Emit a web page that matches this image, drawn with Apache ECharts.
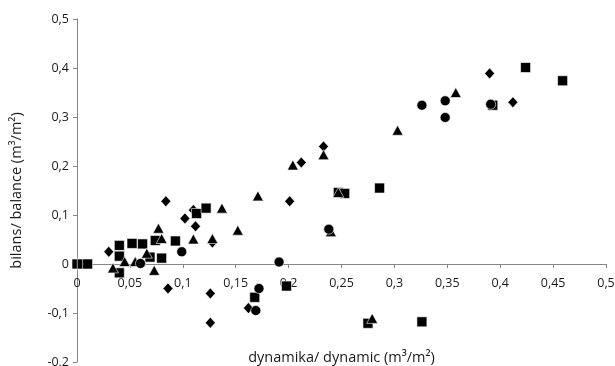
<!DOCTYPE html>
<html>
<head>
<meta charset="utf-8">
<script src="https://cdn.jsdelivr.net/npm/echarts@6/dist/echarts.min.js"></script>
<style>
    html, body { margin: 0; padding: 0; background: #fff; }
    #chart { width: 615px; height: 366px; }
</style>
</head>
<body>
<div id="chart"></div>
<script>
// values: [dynamic, balance]
var diamondPoints = [
    [0.030, 0.025], [0.084, 0.128], [0.086, -0.050], [0.102, 0.093], [0.110, 0.110],
    [0.112, 0.077], [0.128, 0.044], [0.126, -0.060], [0.126, -0.120], [0.162, -0.090],
    [0.201, 0.128], [0.212, 0.207], [0.233, 0.240], [0.390, 0.389], [0.412, 0.330]
];
var squarePoints = [
    [0.000, 0.000], [0.005, 0.000], [0.010, 0.000], [0.040, 0.038], [0.040, 0.016],
    [0.040, -0.018], [0.052, 0.042], [0.062, 0.041], [0.069, 0.014], [0.074, 0.048],
    [0.080, 0.012], [0.093, 0.047], [0.113, 0.103], [0.122, 0.114], [0.168, -0.068],
    [0.198, -0.045], [0.247, 0.146], [0.253, 0.144], [0.286, 0.155], [0.275, -0.121],
    [0.326, -0.118], [0.393, 0.324], [0.424, 0.401], [0.459, 0.374]
];
var trianglePoints = [
    [0.034, -0.008], [0.045, 0.005], [0.055, 0.005], [0.066, 0.022], [0.073, -0.013],
    [0.077, 0.073], [0.080, 0.052], [0.110, 0.051], [0.128, 0.052], [0.137, 0.114],
    [0.152, 0.069], [0.171, 0.139], [0.204, 0.202], [0.233, 0.223], [0.240, 0.066],
    [0.247, 0.146], [0.279, -0.111], [0.303, 0.273], [0.358, 0.350]
];
var circlePoints = [
    [0.060, 0.001], [0.099, 0.025], [0.172, -0.050], [0.169, -0.095], [0.191, 0.004],
    [0.238, 0.071], [0.326, 0.324], [0.348, 0.333], [0.348, 0.299], [0.391, 0.326]
];

var xMin = 0, xMax = 0.5, xStep = 0.05;
var yMin = -0.2, yMax = 0.5, yStep = 0.1;

function commaLabel(v) {
    return String(parseFloat(v.toFixed(2))).replace('.', ',');
}

var chart = echarts.init(document.getElementById('chart'));

var fontName = 'Open Sans';
var axisColor = '#868686';
var textColor = '#1a1a1a';

var gridTop = 19, gridBottom = 4;
var gridHeight = 366 - gridTop - gridBottom;
// lift the x axis from the grid bottom up to y = 0
var zeroLift = gridHeight * (0 - yMin) / (yMax - yMin);

function makeSeries(points, symbol, size) {
    return {
        type: 'scatter',
        data: points,
        symbol: symbol,
        symbolSize: size,
        itemStyle: { color: '#000', opacity: 1, borderColor: '#fff', borderWidth: 0.6 },
        emphasis: { disabled: true }
    };
}

chart.setOption({
    animation: false,
    backgroundColor: '#fff',
    grid: { left: 77, right: 9, top: gridTop, bottom: gridBottom, outerBoundsMode: 'none' },
    xAxis: {
        type: 'value',
        position: 'bottom',
        offset: -zeroLift,
        min: xMin, max: xMax, interval: xStep,
        name: 'dynamika/ dynamic (m³/m²)',
        nameLocation: 'middle',
        nameGap: 86,
        nameTextStyle: { color: textColor, fontFamily: fontName, fontSize: 14.5 },
        axisLine: { onZero: false, lineStyle: { color: axisColor, width: 1 } },
        axisTick: { show: true, length: 4, lineStyle: { color: axisColor } },
        axisLabel: { show: true, color: textColor, fontFamily: fontName, fontSize: 12.5, margin: 13, formatter: commaLabel },
        splitLine: { show: false }
    },
    yAxis: {
        type: 'value',
        min: yMin, max: yMax, interval: yStep,
        name: 'bilans/ balance (m³/m²)',
        nameLocation: 'middle',
        nameGap: 53,
        nameRotate: 90,
        nameTextStyle: { color: textColor, fontFamily: fontName, fontSize: 14.5 },
        axisLine: { show: true, onZero: false, lineStyle: { color: axisColor, width: 1 } },
        axisTick: { show: true, length: 4, lineStyle: { color: axisColor } },
        axisLabel: { color: textColor, fontFamily: fontName, fontSize: 12.5, margin: 8, formatter: commaLabel },
        splitLine: { show: false }
    },
    series: [
        makeSeries(diamondPoints, 'diamond', [10, 11]),
        makeSeries(squarePoints, 'rect', 10),
        makeSeries(trianglePoints, 'triangle', [11, 10]),
        makeSeries(circlePoints, 'circle', 10)
    ]
});
</script>
</body>
</html>
